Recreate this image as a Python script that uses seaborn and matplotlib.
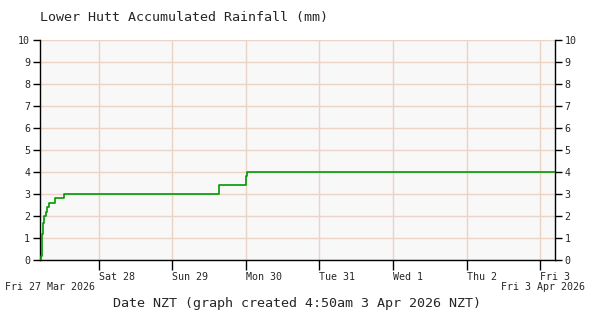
import matplotlib
matplotlib.use('Agg')
import matplotlib.pyplot as plt
import matplotlib.transforms as mtransforms
import seaborn as sns
import pandas as pd

# data
times = ["2026-03-27 04:50", "2026-03-27 05:03", "2026-03-27 05:22", "2026-03-27 05:36",
         "2026-03-27 05:55", "2026-03-27 06:15", "2026-03-27 06:41", "2026-03-27 07:13",
         "2026-03-27 07:52", "2026-03-27 09:50", "2026-03-27 12:46", "2026-03-29 15:20",
         "2026-03-29 23:55", "2026-03-30 00:15", "2026-04-03 04:50"]
rain = [0.0, 0.2, 0.7, 1.2, 1.7, 2.0, 2.2, 2.4, 2.6, 2.8, 3.0, 3.4, 3.8, 4.0, 4.0]
day_ticks = ["2026-03-28", "2026-03-29", "2026-03-30", "2026-03-31", "2026-04-01",
             "2026-04-02", "2026-04-03"]
day_labels = ["Sat 28", "Sun 29", "Mon 30", "Tue 31", "Wed 1", "Thu 2", "Fri 3"]
y_ticks = list(range(0, 11))
start_label = "Fri 27 Mar 2026"
end_label = "Fri 3 Apr 2026"
title = "Lower Hutt Accumulated Rainfall (mm)"
xlabel = "Date NZT (graph created 4:50am 3 Apr 2026 NZT)"

df = pd.DataFrame({"time": pd.to_datetime(times), "rain": rain})

sns.set_style("white")
plt.rcParams['font.family'] = ['DejaVu Sans Mono']

fig = plt.figure(figsize=(6, 3.2), dpi=100)
ax = fig.add_axes([40/600, 1-260/320, 515/600, 220/320])
ax.set_facecolor("#f8f8f8")

sns.lineplot(data=df, x="time", y="rain", drawstyle="steps-post", color="#009900",
             linewidth=1.2, ax=ax, zorder=3)

ax.set_xlim(pd.Timestamp(times[0]), pd.Timestamp(times[-1]))
ax.set_ylim(0, 10)
ax.set_yticks(y_ticks)
ax.set_yticklabels([str(v) for v in y_ticks], fontsize=7.2)
ax.set_xticks(pd.to_datetime(day_ticks))
ax.set_xticklabels(day_labels, fontsize=7.2, ha="left")
offset = mtransforms.ScaledTranslation(4/100, 0, fig.dpi_scale_trans)
for lbl in ax.get_xticklabels():
    lbl.set_transform(lbl.get_transform() + offset)

ax.grid(True, color="#ebd3c6", linewidth=1.0, alpha=1.0)
for gl in ax.get_xgridlines() + ax.get_ygridlines():
    gl.set_snap(True)
ax.set_axisbelow(True)
ax.spines["top"].set_visible(False)
for s in ["left", "bottom", "right"]:
    ax.spines[s].set_color("black")
    ax.spines[s].set_linewidth(1.0)
ax.tick_params(axis="y", which="both", left=True, right=True, labelleft=True,
               labelright=True, length=5, width=1, color="black", pad=2)
ax.tick_params(axis="x", bottom=True, length=7, width=1, color="black", pad=2)
ax.set_xlabel("")
ax.set_ylabel("")

fig.text(40/600, 1-18/320, title, fontsize=9.6, ha="left", va="center")
fig.text(5/600, 1-287/320, start_label, fontsize=7.2, ha="left", va="center")
fig.text(585/600, 1-287/320, end_label, fontsize=7.2, ha="right", va="center")
fig.text(297/600, 1-303/320, xlabel, fontsize=9.6, ha="center", va="center")

fig.savefig("out.png", dpi=100)
